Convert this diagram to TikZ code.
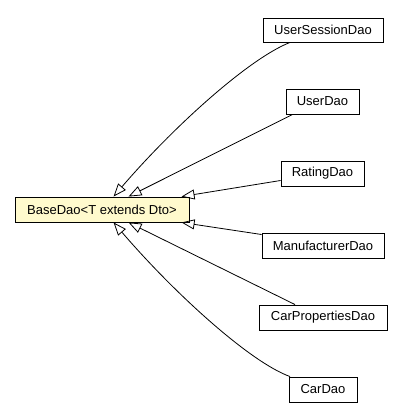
\documentclass[tikz,border=0pt]{standalone}
\usepackage{fontspec}
\setmainfont{Liberation Sans}
\usetikzlibrary{arrows.meta,calc}
\definecolor{basefill}{RGB}{255,250,205}
\tikzset{
  cls/.style={draw=black, line width=0.9bp, minimum height=25bp, inner sep=0pt,
    font=\fontsize{13bp}{15bp}\selectfont, text=black},
  gen/.style={draw=black, line width=0.8bp,
    {Triangle[open, length=13bp, width=10bp, line width=0.8bp]}-},
}
\begin{document}
\begin{tikzpicture}[x=1bp, y=-1bp]
\useasboundingbox (0,0) rectangle (403,419);
\node[cls, fill=basefill, minimum width=174bp] (base) at (102,209.5) {BaseDao<T extends Dto>};
\node[cls, minimum width=120bp, minimum height=24bp] (usd) at (323,30) {UserSessionDao};
\node[cls, minimum width=73bp] (ud) at (322.5,101.5) {UserDao};
\node[cls, minimum width=83bp] (rd) at (322.5,173.5) {RatingDao};
\node[cls, minimum width=122bp] (md) at (323,245.5) {ManufacturerDao};
\node[cls, minimum width=128bp] (cpd) at (323,317.5) {CarPropertiesDao};
\node[cls, minimum width=68bp] (cd) at (323,389.5) {CarDao};
% arrow tips on the base box
\coordinate (t1) at ($(base.north west)+(99,0)$);
\coordinate (t2) at ($(base.north west)+(114,0)$);
\coordinate (t3) at ($(base.north west)+(167,0)$);
\coordinate (b1) at ($(base.south west)+(99,0)$);
\coordinate (b2) at ($(base.south west)+(114,0)$);
\coordinate (b3) at ($(base.south west)+(167,0)$);
% connectors
\draw[gen] (t1) .. controls (175,125) and (250,58) .. ($(usd.south)+(-33,0)$);
\draw[gen] (t2) -- ($(ud.south)+(-30,0)$);
\draw[gen] (t3) -- ($(rd.west)+(0,7)$);
\draw[gen] (b3) -- ($(md.west)+(0,-11)$);
\draw[gen] (b2) -- ($(cpd.north)+(-28,0)$);
\draw[gen] (b1) .. controls (175,294) and (250,362) .. ($(cd.north)+(-33,0)$);
\end{tikzpicture}
\end{document}
